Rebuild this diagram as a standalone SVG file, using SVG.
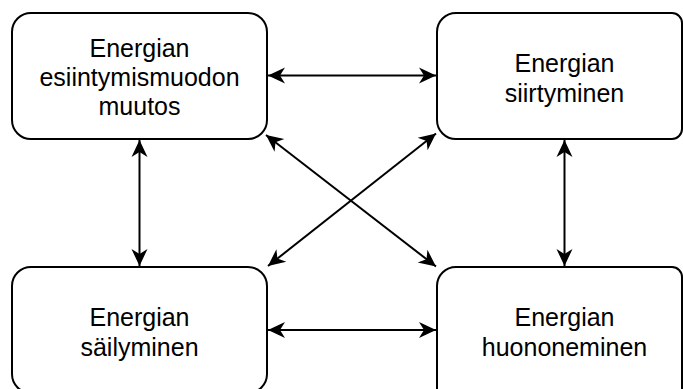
<svg xmlns="http://www.w3.org/2000/svg" width="683" height="389" viewBox="0 0 683 389">
<style>
.box{fill:#fff;stroke:#000;stroke-width:2}
.t{font-family:"Liberation Sans",Arial,sans-serif;font-size:25px;fill:#000;text-anchor:middle}
.c{stroke:#000;stroke-width:2;fill:none;marker-start:url(#a);marker-end:url(#a)}
</style>
<defs>
<marker id="a" viewBox="-18 -9 19 18" refX="0" refY="0" markerWidth="19" markerHeight="18" markerUnits="userSpaceOnUse" orient="auto-start-reverse">
<path d="M0,0 L-17,-8 L-12,0 L-17,8 Z" fill="#000"/>
</marker>
</defs>
<g id="n1"><rect class="box" x="12" y="13" width="255" height="126" rx="19"/>
<text class="t" x="139.5" y="57">Energian</text>
<text class="t" x="139.5" y="86">esiintymismuodon</text>
<text class="t" x="139.5" y="115">muutos</text></g>
<g id="n2"><path class="box" d="M456,13 H672 A10,10 0 0 1 682,23 V129 A10,10 0 0 1 672,139 H456 A19,19 0 0 1 437,120 V32 A19,19 0 0 1 456,13 Z"/>
<text class="t" x="564.5" y="72">Energian</text>
<text class="t" x="564.5" y="102">siirtyminen</text></g>
<g id="n3"><rect class="box" x="12" y="267" width="255" height="126" rx="19"/>
<text class="t" x="139.5" y="326">Energian</text>
<text class="t" x="139.5" y="356">säilyminen</text></g>
<g id="n4"><path class="box" d="M456,267 H672 A10,10 0 0 1 682,277 V395 H437 V286 A19,19 0 0 1 456,267 Z"/>
<text class="t" x="564.5" y="326">Energian</text>
<text class="t" x="564.5" y="356">huononeminen</text></g>
<g id="connectors">
<line class="c" x1="268" y1="75.5" x2="436" y2="75.5"/>
<line class="c" x1="268" y1="330" x2="436" y2="330"/>
<line class="c" x1="139.5" y1="140" x2="139.5" y2="266"/>
<line class="c" x1="564.5" y1="140" x2="564.5" y2="266"/>
<line class="c" x1="266" y1="135" x2="436" y2="266.5"/>
<line class="c" x1="436" y1="133.5" x2="268" y2="266"/>
</g>
</svg>
